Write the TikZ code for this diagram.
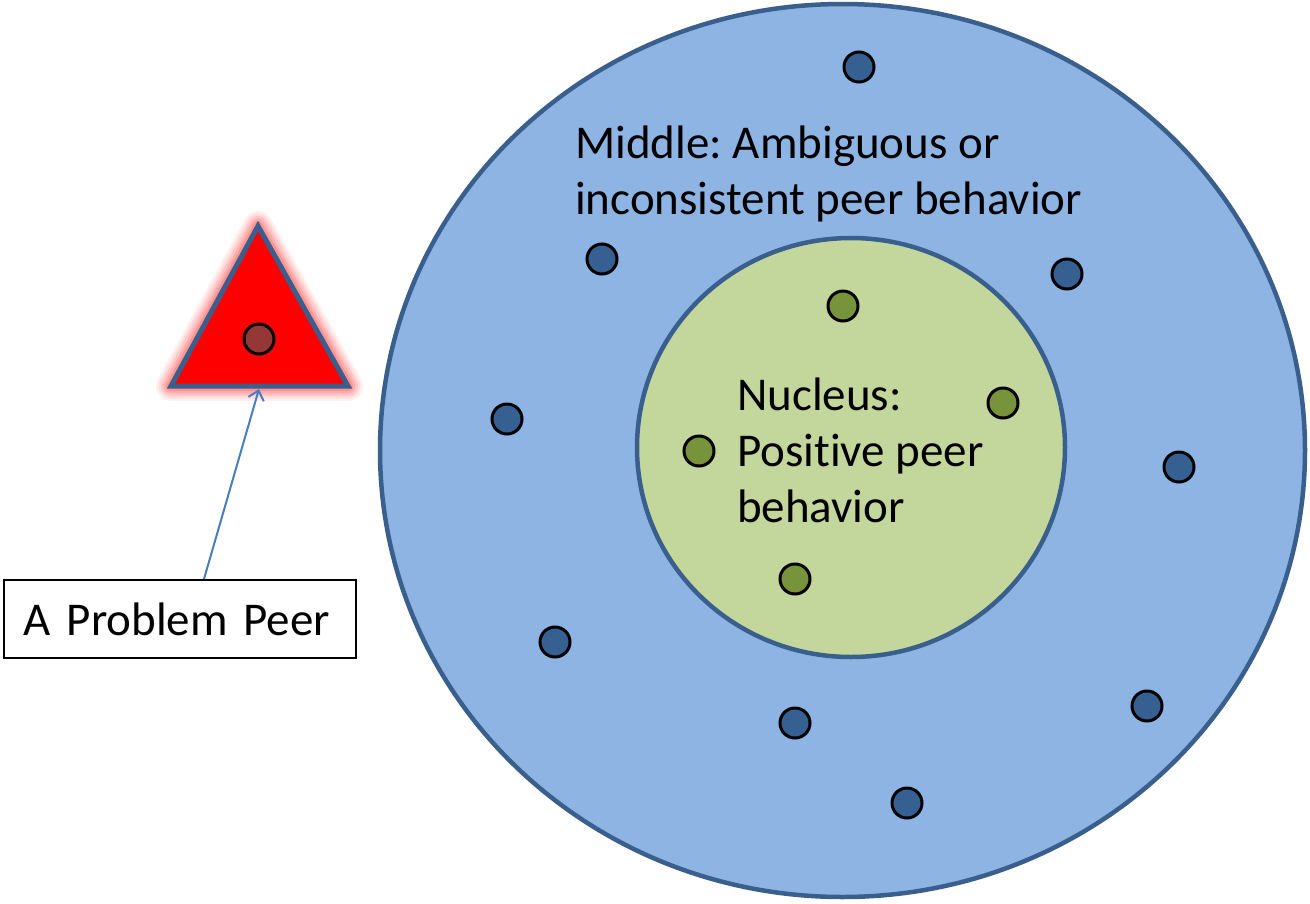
\documentclass[tikz,border=0pt]{standalone}
\usepackage{fontspec}
\setmainfont{Carlito}[Ligatures=NoCommon]
\usetikzlibrary{arrows.meta,shapes.geometric}
\definecolor{outerfill}{HTML}{8EB4E3}
\definecolor{ringline}{HTML}{3A5F8D}
\definecolor{innerfill}{HTML}{C3D69B}
\definecolor{bluedot}{HTML}{376092}
\definecolor{greendot}{HTML}{77933C}
\definecolor{reddot}{HTML}{953735}
\definecolor{arrowblue}{HTML}{4A7EBB}
\frenchspacing
\begin{document}
\begin{tikzpicture}[x=1pt,y=-1pt,
  dot/.style={circle,draw=black,line width=3pt,minimum size=30pt,inner sep=0pt},
  bdot/.style={dot,fill=bluedot},
  gdot/.style={dot,fill=greendot},
  lbl/.style={font=\fontsize{47}{56}\selectfont,inner sep=0pt,align=left,anchor=base west},
  ring/.style={ellipse,draw=ringline,line width=4.5pt,inner sep=0pt}]
\useasboundingbox (0,0) rectangle (1310,903);
% rings
\node[ring,fill=outerfill,minimum width=925pt,minimum height=893pt] (outer) at (842.5,450.5) {};
\node[ring,fill=innerfill,minimum width=428pt,minimum height=419pt] (nucleus) at (851,447.5) {};
% blue dots
\node[bdot] (b1) at (859,67) {};
\node[bdot] (b2) at (602,259) {};
\node[bdot] (b3) at (1067,274) {};
\node[bdot] (b4) at (507,419) {};
\node[bdot] (b5) at (1179,467) {};
\node[bdot] (b6) at (555,642) {};
\node[bdot] (b7) at (1147,706) {};
\node[bdot] (b8) at (795,723) {};
\node[bdot] (b9) at (907,803) {};
% green dots
\node[gdot] (g1) at (843,306) {};
\node[gdot] (g2) at (1003,403) {};
\node[gdot] (g3) at (699,451) {};
\node[gdot] (g4) at (795,579) {};
% labels (anchored at the baseline of the last line)
\node[lbl] (midtext) at (575,214) {Middle: Ambiguous or\\inconsistent peer behavior};
\node[lbl] (nuctext) at (737,522) {Nucleus:\\Positive peer\\behavior};
% triangle with glow
\coordinate (ta) at (258,226);
\coordinate (tb) at (171,386);
\coordinate (tc) at (348,386);
\foreach \w/\o in {30/0.06,25/0.08,20/0.1,15/0.12,10/0.15}{
  \draw[red,line width=\w pt,line join=round,opacity=\o] (ta) -- (tb) -- (tc) -- cycle;
}
\draw[fill=red,draw=ringline,line width=5pt,line join=miter] (ta) -- (tb) -- (tc) -- cycle;
\node[dot,fill=reddot] (rdot) at (259,339) {};
\coordinate (tribase) at (259,389);
% box
\node[draw=black,line width=1.8pt,anchor=north west,inner xsep=20pt,inner ysep=0pt,
  text width=312pt,minimum height=78pt,align=left,font=\fontsize{47}{56}\selectfont] (peerbox) at (3,579) {A Problem Peer};
\coordinate (arrowstart) at (204,579);
\draw[arrowblue,line width=2pt,-{Straight Barb[length=9pt,width=16pt,line width=2pt]}] (arrowstart) -- (tribase);
\end{tikzpicture}
\end{document}
